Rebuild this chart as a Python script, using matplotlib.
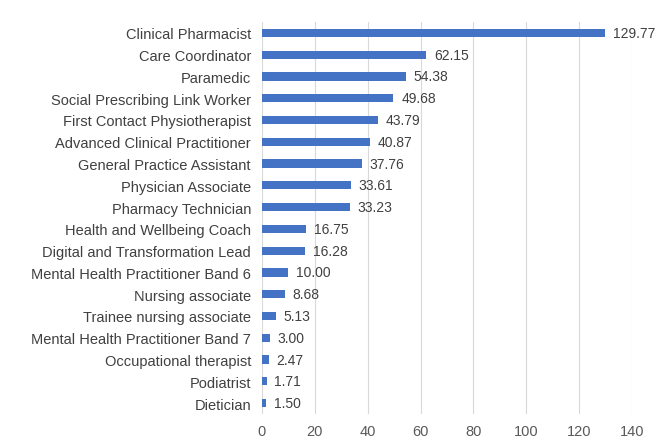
import matplotlib
matplotlib.use("Agg")
import matplotlib.pyplot as plt

categories = ["Clinical Pharmacist", "Care Coordinator", "Paramedic",
              "Social Prescribing Link Worker", "First Contact Physiotherapist",
              "Advanced Clinical Practitioner", "General Practice Assistant",
              "Physician Associate", "Pharmacy Technician",
              "Health and Wellbeing Coach", "Digital and Transformation Lead",
              "Mental Health Practitioner Band 6", "Nursing associate",
              "Trainee nursing associate", "Mental Health Practitioner Band 7",
              "Occupational therapist", "Podiatrist", "Dietician"]
values = [129.77, 62.15, 54.38, 49.68, 43.79, 40.87, 37.76, 33.61, 33.23,
          16.75, 16.28, 10.00, 8.68, 5.13, 3.00, 2.47, 1.71, 1.50]
xticks = [0, 20, 40, 60, 80, 100, 120, 140]

plt.rcParams['font.family'] = ['Liberation Sans', 'DejaVu Sans']
fig = plt.figure(figsize=(6.59, 4.39), dpi=100)
ax = fig.add_axes([262/659, 1-415/439, (632-262)/659, (415-23)/439])

y = list(range(len(categories)))
ax.barh(y, values, height=0.38, color="#4472C4", zorder=3)
for yi, v in zip(y, values):
    ax.text(v + 3.0, yi, f"{v:.2f}", va="center", ha="left", fontsize=10, color="#404040")

ax.set_yticks(y)
ax.set_yticklabels(categories, fontsize=10.5, color="#404040")
ax.set_ylim(len(categories) - 0.5, -0.5)
ax.set_xlim(0, 140)
ax.set_xticks(xticks)
ax.set_xticklabels([str(t) for t in xticks], fontsize=10.5, color="#595959")
ax.grid(axis="x", color="#d9d9d9", linewidth=0.8, zorder=0)
for s in ax.spines.values():
    s.set_visible(False)
ax.tick_params(axis="y", length=0, pad=8)
ax.tick_params(axis="x", length=0, pad=7)

fig.savefig("out.png", dpi=100)
